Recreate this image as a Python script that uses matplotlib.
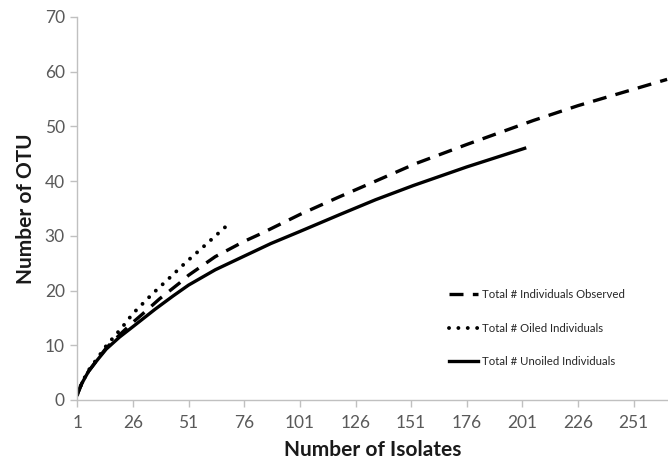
import matplotlib.pyplot as plt
import numpy as np

plt.rcParams['font.family'] = ['Lato', 'DejaVu Sans']

# values
obs_x = [1, 3, 6, 10, 14, 20, 26, 30, 38, 47, 51, 63, 76, 83, 101, 118, 135, 153, 176, 206, 226, 251, 266]
obs_y = [1, 3.0, 5.2, 7.4, 9.5, 11.9, 14.2, 15.6, 18.5, 21.4, 22.8, 26.2, 29.0, 30.3, 33.9, 37.0,
         40.0, 43.2, 46.7, 51.1, 53.8, 56.8, 58.6]

oiled_x = [1, 3, 6, 10, 14, 21, 26, 35, 44, 47, 51, 56, 62, 68]
oiled_y = [1, 3.1, 5.4, 7.6, 9.9, 13.2, 15.8, 19.5, 22.9, 24.1, 25.6, 27.4, 29.6, 31.8]

unoiled_x = [1, 3, 6, 10, 14, 20, 26, 36, 44, 51, 63, 76, 88, 101, 119, 135, 152, 176, 202]
unoiled_y = [1, 3.0, 5.2, 7.3, 9.3, 11.5, 13.4, 16.6, 19.0, 21.0, 23.8, 26.3, 28.6, 30.8, 33.9,
             36.6, 39.2, 42.6, 46.0]

labels = ["Total # Individuals Observed", "Total # Oiled Individuals",
          "Total # Unoiled Individuals"]
xticks = list(range(1, 252, 25))
yticks = list(range(0, 71, 10))

fig = plt.figure(figsize=(6.68, 4.67), dpi=100)
ax = fig.add_axes([0.1157, 0.1435, 0.8843, 0.8201])

ax.plot(obs_x, obs_y, color="black", lw=2.4, dashes=(4.2, 2.8), label=labels[0],
        dash_capstyle="butt")
ax.plot(oiled_x, oiled_y, color="black", lw=2.8, linestyle=(0, (0.01, 2.4)),
        dash_capstyle="round", label=labels[1])
ax.plot(unoiled_x, unoiled_y, color="black", lw=2.4, label=labels[2])

ax.set_xlim(1, 266.4)
ax.set_ylim(0, 70)
ax.set_xticks(xticks)
ax.set_yticks(yticks)

for s in ["top", "right"]:
    ax.spines[s].set_visible(False)
for s in ["left", "bottom"]:
    ax.spines[s].set_color("#c0c0c0")
    ax.spines[s].set_linewidth(1.0)
ax.tick_params(colors="#c0c0c0", labelcolor="#595959", labelsize=12.5, length=5, width=1.0)
ax.tick_params(axis="x", pad=6)
ax.tick_params(axis="y", pad=4)

ax.set_xlabel("Number of Isolates", fontsize=15, fontweight="bold", color="#1a1a1a", labelpad=6)
ax.set_ylabel("Number of OTU", fontsize=15, fontweight="bold", color="#1a1a1a", labelpad=6)

leg = ax.legend(loc="upper left", bbox_to_anchor=(0.6115, 0.316), frameon=False,
                fontsize=8.2, handlelength=2.6, handletextpad=0.3, labelspacing=1.97)
for t in leg.get_texts():
    t.set_color("#262626")

fig.savefig("out.png", dpi=100)
